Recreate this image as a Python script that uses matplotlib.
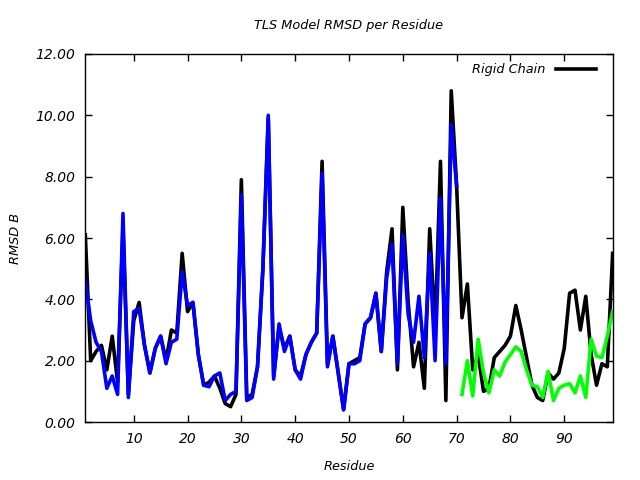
import matplotlib
matplotlib.use("Agg")
import matplotlib.pyplot as plt
import numpy as np

residues_all = list(range(1, 100))
rigid_chain = [6.1, 2.0, 2.3, 2.5, 1.7, 2.8, 1.3, 6.3, 0.9, 3.3,
               3.9, 2.5, 1.6, 2.4, 2.8, 2.0, 3.0, 2.9, 5.5, 3.6,
               3.9, 2.2, 1.2, 1.3, 1.5, 1.1, 0.6, 0.5, 0.9, 7.9,
               0.8, 0.9, 1.8, 5.0, 9.9, 1.5, 3.1, 2.4, 2.8, 1.7,
               1.5, 2.2, 2.6, 2.9, 8.5, 1.9, 2.8, 1.6, 0.4, 1.9,
               2.0, 2.1, 3.2, 3.4, 4.2, 2.3, 4.9, 6.3, 1.7, 7.0,
               3.9, 1.8, 2.6, 1.1, 6.3, 3.0, 8.5, 0.7, 10.8, 7.7,
               3.4, 4.5, 1.7, 2.2, 1.0, 1.1, 2.1, 2.3, 2.5, 2.8,
               3.8, 3.0, 2.1, 1.2, 0.8, 0.7, 1.6, 1.4, 1.6, 2.4,
               4.2, 4.3, 3.0, 4.1, 2.2, 1.2, 1.9, 1.8, 5.5]

residues_blue = list(range(1, 71))
segment_blue = [4.6, 3.3, 2.6, 2.3, 1.1, 1.5, 0.9, 6.8, 0.8, 3.6,
                3.7, 2.5, 1.6, 2.4, 2.8, 1.9, 2.6, 2.7, 4.9, 3.8,
                3.9, 2.2, 1.2, 1.15, 1.5, 1.6, 0.7, 0.9, 1.0, 7.4,
                0.7, 0.8, 1.8, 5.0, 10.0, 1.4, 3.2, 2.3, 2.8, 1.7,
                1.4, 2.2, 2.6, 2.9, 8.1, 1.8, 2.8, 1.6, 0.4, 1.9,
                1.9, 2.0, 3.2, 3.4, 4.2, 2.3, 4.7, 5.8, 1.9, 6.1,
                3.5, 2.6, 4.1, 2.1, 5.5, 2.0, 7.3, 1.9, 9.7, 7.7]

residues_green = list(range(71, 100))
segment_green = [0.9, 2.0, 0.85, 2.7, 1.6, 0.95, 1.7, 1.5, 1.95, 2.2,
                 2.45, 2.3, 1.7, 1.2, 1.15, 0.8, 1.65, 0.7, 1.1, 1.2,
                 1.25, 0.95, 1.5, 0.8, 2.7, 2.15, 2.1, 2.8, 3.6]

x_ticks = [10, 20, 30, 40, 50, 60, 70, 80, 90]
y_ticks = [0, 2, 4, 6, 8, 10, 12]

plt.rcParams['font.family'] = ['DejaVu Sans']
fig = plt.figure(figsize=(6.4, 4.8), dpi=100)
ax = fig.add_axes([0.1333, 0.1208, 0.8240, 0.7667])

ax.plot(residues_all, rigid_chain, color='black', lw=2.6, label='Rigid Chain')
ax.plot(residues_blue, segment_blue, color='#0000ff', lw=2.6)
ax.plot(residues_green, segment_green, color='#00ff00', lw=2.6)

ax.set_xlim(1, 99)
ax.set_ylim(0, 12)
ax.set_xticks(x_ticks)
ax.set_yticks(y_ticks)
ax.set_yticklabels([f"{v:.2f}" for v in y_ticks], fontstyle='italic', fontsize=10)
ax.set_xticklabels([str(v) for v in x_ticks], fontstyle='italic', fontsize=10)
ax.tick_params(direction='in', length=5, top=True, right=True, width=1, pad=7)
for s in ax.spines.values():
    s.set_linewidth(1)

ax.set_title('TLS Model RMSD per Residue', fontstyle='italic', fontsize=9.3, pad=18)
ax.set_xlabel('Residue', fontstyle='italic', fontsize=9.3, labelpad=10)
ax.set_ylabel('RMSD B', fontstyle='italic', fontsize=9.3, labelpad=10)

leg = ax.legend(loc='upper right', frameon=False, handlelength=3.1,
                markerfirst=False, prop={'style': 'italic', 'size': 9.3},
                borderaxespad=0.3, handletextpad=0.8,
                bbox_to_anchor=(0.9853, 1.0))

fig.savefig('out.png', dpi=100)
